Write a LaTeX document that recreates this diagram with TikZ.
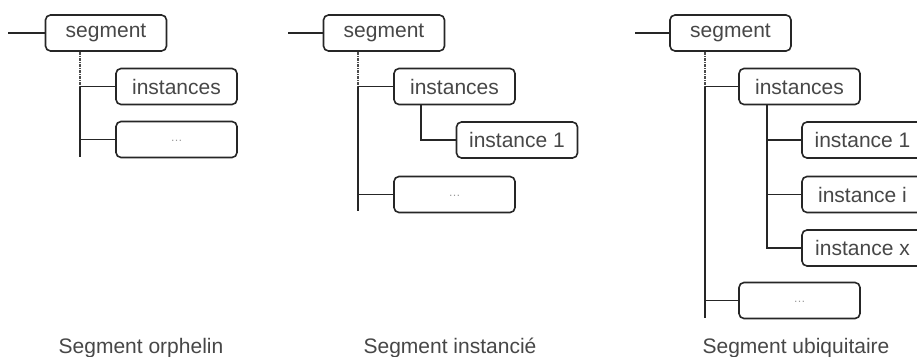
\documentclass[tikz,border=0pt]{standalone}
\usepackage{fontspec}
\setmainfont{Liberation Sans}
\begin{document}
\begin{tikzpicture}[x=1pt,y=-1pt,
  box/.style={draw=black!85, line width=1.6pt, rounded corners=5pt,
    minimum width=121pt, minimum height=36pt, inner sep=0pt,
    text=black!72, font=\fontsize{21}{25}\selectfont},
  dotsbox/.style={box, font=\fontsize{12}{14}\selectfont, text=black!40},
  conn/.style={line width=1.5pt, draw=black!85},
  trunktop/.style={line width=1.1pt, draw=black!70, densely dashdotted},
  trunk/.style={line width=1.2pt, draw=black!85},
  caption/.style={anchor=base, text=black!72, font=\fontsize{21}{25}\selectfont}]
\clip (0,0) rectangle (917,356);
\fill[white] (0,0) rectangle (917,356);

% ---------- Panel 1 ----------
\node[box] (s1) at (106,33) {segment};
\coordinate (l1) at (8,33);
\draw[conn] (l1) -- (s1.west);
\node[box] (i1) at (176.5,86.5) {instances};
\node[dotsbox] (d1) at (176.5,139.5) {\raisebox{-4pt}{\dots}};
\coordinate (t1) at (80,157);
\draw[trunktop] (s1.south -| t1) -- (i1.west -| t1);
\draw[trunk] (i1.west -| t1) -- (t1);
\draw[conn] (i1.west -| t1) -- (i1.west);
\draw[conn] (d1.west -| t1) -- (d1.west);
\node[caption] (c1) at (141,353) {Segment orphelin};

% ---------- Panel 2 ----------
\node[box] (s2) at (384,33) {segment};
\coordinate (l2) at (288,33);
\draw[conn] (l2) -- (s2.west);
\node[box] (i2) at (454.5,86.5) {instances};
\node[box] (n21) at (517,140) {instance 1};
\node[dotsbox] (d2) at (454.5,194.5) {\raisebox{-4pt}{\dots}};
\coordinate (t2) at (358,211);
\draw[trunktop] (s2.south -| t2) -- (i2.west -| t2);
\draw[trunk] (i2.west -| t2) -- (t2);
\draw[conn] (i2.west -| t2) -- (i2.west);
\draw[conn] (d2.west -| t2) -- (d2.west);
\coordinate (u2) at (421,140);
\draw[conn] (i2.south -| u2) -- (u2) -- (n21.west);
\node[caption] (c2) at (450,353) {Segment instancié};

% ---------- Panel 3 ----------
\node[box] (s3) at (730.5,33) {segment};
\coordinate (l3) at (635,33);
\draw[conn] (l3) -- (s3.west);
\node[box] (i3) at (799.5,86.5) {instances};
\node[box] (n31) at (862.5,140) {instance 1};
\node[box] (n3i) at (862.5,194.5) {instance i};
\node[box] (n3x) at (862.5,248) {instance x};
\node[dotsbox] (d3) at (799.5,300.5) {\raisebox{-4pt}{\dots}};
\coordinate (t3) at (705,318);
\draw[trunktop] (s3.south -| t3) -- (i3.west -| t3);
\draw[trunk] (i3.west -| t3) -- (t3);
\draw[conn] (i3.west -| t3) -- (i3.west);
\draw[conn] (d3.west -| t3) -- (d3.west);
\coordinate (u3) at (767,248);
\draw[conn] (i3.south -| u3) -- (u3) -- (n3x.west);
\draw[conn] (n31.west -| u3) -- (n31.west);
\draw[conn] (n3i.west -| u3) -- (n3i.west);
\node[caption] (c3) at (796,353) {Segment ubiquitaire};
\end{tikzpicture}
\end{document}
